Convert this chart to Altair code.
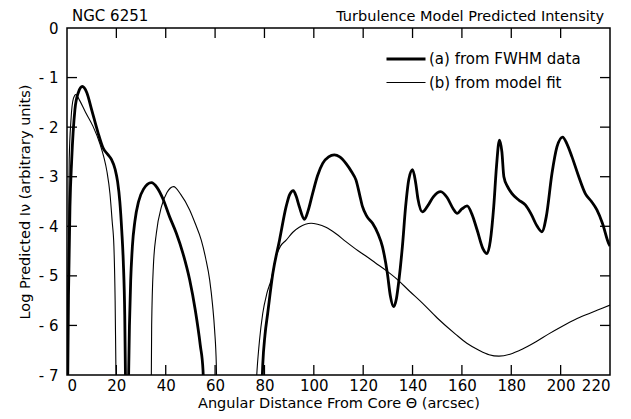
import altair as alt
import pandas as pd

# ---- data ----
a1_x = [0.2, 0.6, 1.2, 1.9, 3.2, 4.6, 6.2, 8.0, 10.0, 12.5, 14.7, 16.5, 18.0, 19.5, 20.5, 21.4, 22.2, 22.8, 23.4, 23.8]
a1_y = [-7.6, -5.4, -3.6, -2.66, -1.65, -1.3, -1.18, -1.3, -1.65, -2.1, -2.43, -2.55, -2.65, -2.85, -3.1, -3.5, -4.1, -4.7, -5.8, -7.5]
a2_x = [24.8, 25.3, 25.8, 26.5, 27.5, 29.0, 31.0, 34.2, 36.5, 38.9, 41.5, 44.3, 47.0, 49.7, 52.0, 54.0, 55.1, 55.5]
a2_y = [-7.5, -6.0, -5.1, -4.4, -3.9, -3.5, -3.25, -3.12, -3.22, -3.45, -3.8, -4.14, -4.55, -5.08, -5.7, -6.4, -6.9, -7.5]
a3_x = [78.8, 79.3, 80.2, 81.3, 83.4, 86.1, 88.8, 90.2, 91.7, 92.9, 94.1, 96.2, 97.6, 99.5, 101.5, 103.6, 106.0,
        108.3, 110.5, 113.0, 115.3, 117.1, 118.5, 119.7, 121.5, 123.8, 126.0, 127.8, 129.8, 131.0, 132.3, 133.5,
        134.5, 135.9, 137.2, 138.5, 140.0, 141.2, 142.2, 144.0, 146.0, 148.5, 151.4, 154.0, 156.5, 158.1, 160.0,
        162.1, 164.0, 166.2, 168.5, 170.2, 171.5, 172.9, 174.0, 175.2, 176.2, 177.0, 178.5, 180.3, 183.0, 185.7,
        188.0, 190.5, 192.4, 194.2, 196.5, 198.5, 200.8, 202.5, 204.6, 207.0, 210.0, 212.5, 214.7, 217.0, 219.4, 220.0]
a3_y = [-7.5, -6.8, -6.2, -5.76, -4.95, -4.28, -3.6, -3.36, -3.28, -3.4, -3.6, -3.86, -3.7, -3.34, -2.98, -2.73, -2.6,
        -2.56, -2.6, -2.73, -2.9, -3.07, -3.35, -3.6, -3.8, -3.94, -4.15, -4.41, -4.95, -5.4, -5.62, -5.45,
        -5.08, -4.4, -3.6, -3.05, -2.86, -3.1, -3.45, -3.71, -3.6, -3.4, -3.3, -3.42, -3.65, -3.74, -3.65,
        -3.59, -3.75, -4.08, -4.45, -4.55, -4.3, -3.6, -2.8, -2.26, -2.5, -3.0, -3.2, -3.34, -3.47, -3.57,
        -3.75, -4.0, -4.11, -3.8, -2.93, -2.4, -2.2, -2.33, -2.6, -2.95, -3.34, -3.5, -3.67, -3.95, -4.34, -4.4]

b1_x = [0.2, 0.5, 0.9, 1.6, 2.6, 3.6, 5.0, 7.5, 10.6, 13.3, 14.9, 16.2, 17.4, 18.3, 19.0, 19.5, 19.8, 20.0]
b1_y = [-7.5, -5.0, -2.66, -1.86, -1.42, -1.34, -1.45, -1.7, -1.99, -2.33, -2.6, -2.9, -3.34, -3.9, -4.4, -5.5, -6.8, -7.5]
b2_x = [34.1, 34.3, 35.0, 36.2, 38.3, 40.5, 43.2, 46.0, 49.7, 52.0, 54.4, 56.2, 57.8, 59.0, 59.8, 60.5, 60.8]
b2_y = [-7.5, -6.0, -4.8, -4.14, -3.6, -3.32, -3.2, -3.35, -3.67, -3.95, -4.28, -4.65, -5.08, -5.6, -6.09, -6.8, -7.5]
b3_x = [76.3, 77.0, 78.0, 79.3, 81.0, 82.7, 84.7, 86.5, 88.8, 91.5, 94.1, 98.9, 101.5, 104.9, 109.0, 113.0, 117.0,
        121.1, 125.0, 129.5, 134.0, 138.6, 144.0, 150.0, 157.5, 162.0, 166.9, 171.0, 175.0, 179.5, 184.4, 190.0,
        195.2, 200.5, 205.9, 210.0, 215.0, 220.0]
b3_y = [-7.5, -6.9, -6.3, -5.76, -5.35, -5.08, -4.61, -4.4, -4.28, -4.12, -4.02, -3.94, -3.96, -4.02, -4.15, -4.31, -4.46,
        -4.6, -4.74, -4.9, -5.08, -5.3, -5.55, -5.85, -6.18, -6.36, -6.5, -6.59, -6.62, -6.58, -6.48, -6.33,
        -6.17, -6.02, -5.88, -5.79, -5.69, -5.59]

series_a = "(a) from FWHM data"
series_b = "(b) from model fit"

x_ticks = [20, 40, 60, 80, 100, 120, 140, 160, 180, 200]
y_ticks = [-1, -2, -3, -4, -5, -6]

title_left = "NGC 6251"
title_right = "Turbulence Model Predicted Intensity"

rows = []
for name, segs in [(series_a, [(a1_x, a1_y), (a2_x, a2_y), (a3_x, a3_y)]),
                   (series_b, [(b1_x, b1_y), (b2_x, b2_y), (b3_x, b3_y)])]:
    for i, (xs_, ys_) in enumerate(segs):
        for k, (xv, yv) in enumerate(zip(xs_, ys_)):
            rows.append({"x": xv, "y": yv, "series": name, "seg": f"{name}-{i}", "order": k})
df = pd.DataFrame(rows)

W, H = 543, 347
FONT = "DejaVu Sans"

xs = alt.Scale(domain=[0, 220], nice=False, zero=False)
ys = alt.Scale(domain=[-7, 0], nice=False, zero=False)

lines = alt.Chart(df).mark_line(clip=True, interpolate="monotone", color="black").encode(
    x=alt.X("x:Q", scale=xs, axis=alt.Axis(
        title="Angular Distance From Core Θ (arcsec)", values=list(range(0, 221, 20)),
        labelPadding=3, titlePadding=3)),
    y=alt.Y("y:Q", scale=ys, axis=alt.Axis(
        title="Log Predicted Iν (arbitrary units)", values=list(range(-7, 1)),
        labelExpr="datum.value < 0 ? '- ' + abs(datum.value) : '0'",
        labelPadding=9, titlePadding=6)),
    strokeWidth=alt.StrokeWidth("series:N",
        scale=alt.Scale(domain=[series_a, series_b], range=[2.8, 1.1]),
        legend=alt.Legend(title=None, orient="none", legendX=331, legendY=23,
                          symbolType="M-3,0H3", symbolSize=169, symbolStrokeColor="black",
                          labelFont=FONT, labelFontSize=15, labelColor="black",
                          labelOffset=15, rowPadding=8)),
    detail="seg:N",
    order="order:Q",
)

tick_len = 10
xt = pd.DataFrame({"v": x_ticks})
yt = pd.DataFrame({"v": y_ticks})
bottom_ticks = alt.Chart(xt).mark_rule(color="black", strokeWidth=1.3).encode(
    x=alt.X("v:Q", scale=xs), y=alt.value(H), y2=alt.value(H - tick_len))
top_ticks = alt.Chart(xt).mark_rule(color="black", strokeWidth=1.3).encode(
    x=alt.X("v:Q", scale=xs), y=alt.value(0), y2=alt.value(tick_len))
left_ticks = alt.Chart(yt).mark_rule(color="black", strokeWidth=1.3).encode(
    y=alt.Y("v:Q", scale=ys), x=alt.value(0), x2=alt.value(tick_len))
right_ticks = alt.Chart(yt).mark_rule(color="black", strokeWidth=1.3).encode(
    y=alt.Y("v:Q", scale=ys), x=alt.value(W - tick_len), x2=alt.value(W))

t_right = alt.Chart(pd.DataFrame({"t": [title_right]})).mark_text(
    align="right", baseline="alphabetic", font=FONT, fontSize=14.5, color="black").encode(
    text="t:N", x=alt.value(W - 6), y=alt.value(-7))
t_left = alt.Chart(pd.DataFrame({"t": [title_left]})).mark_text(
    align="left", baseline="alphabetic", font=FONT, fontSize=15, color="black").encode(
    text="t:N", x=alt.value(5), y=alt.value(-7))

chart = alt.layer(lines, bottom_ticks, top_ticks, left_ticks, right_ticks, t_right, t_left).properties(
    width=W, height=H,
    autosize=alt.AutoSizeParams(type="none"),
    padding={"left": 59, "top": 20, "right": 13, "bottom": 36},
).configure_view(stroke="black", strokeWidth=1.5).configure_axis(
    domain=False, ticks=False, grid=False,
    labelFont=FONT, labelFontSize=15, labelColor="black",
    titleFont=FONT, titleFontSize=14.5, titleFontWeight="normal", titleColor="black",
)

chart.save("out.html", embed_options={"renderer": "svg", "actions": False})
